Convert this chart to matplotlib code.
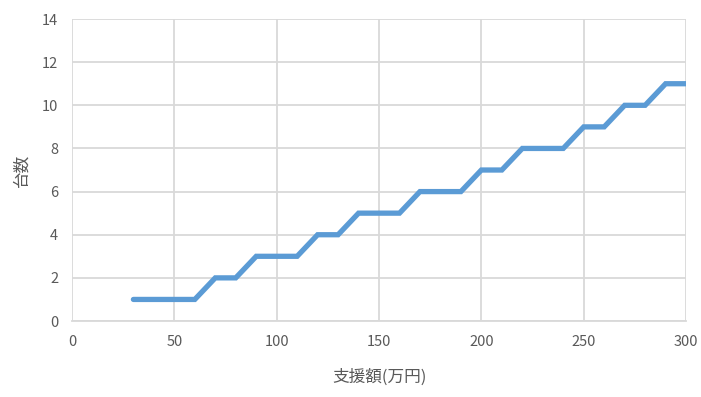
import matplotlib.pyplot as plt

plt.rcParams['font.family'] = ['Noto Sans CJK JP', 'DejaVu Sans']

# 支援額(万円) vs 台数
support = [30, 40, 50, 60, 70, 80, 90, 100, 110, 120, 130, 140, 150, 160,
           170, 180, 190, 200, 210, 220, 230, 240, 250, 260, 270, 280, 290, 300]
units = [1, 1, 1, 1, 2, 2, 3, 3, 3, 4, 4, 5, 5, 5,
         6, 6, 6, 7, 7, 8, 8, 8, 9, 9, 10, 10, 11, 11]
x_ticks = [0, 50, 100, 150, 200, 250, 300]
y_ticks = [0, 2, 4, 6, 8, 10, 12, 14]

fig = plt.figure(figsize=(7.01, 3.97), dpi=100)
ax = fig.add_axes([0.1027, 0.1914, 0.876, 0.7607])

ax.plot(support, units, color="#5B9BD5", linewidth=3.8, solid_capstyle="round",
        solid_joinstyle="miter", zorder=3)

ax.set_xlim(0, 300)
ax.set_ylim(0, 14)
ax.set_xticks(x_ticks)
ax.set_yticks(y_ticks)
ax.grid(True, color="#D9D9D9", linewidth=1.3)
ax.set_axisbelow(True)
for side in ["top", "right", "left"]:
    ax.spines[side].set_visible(False)
ax.spines["bottom"].set_color("#D9D9D9")
ax.spines["bottom"].set_linewidth(1.3)
ax.tick_params(length=0, labelsize=10.5, labelcolor="#595959")
ax.tick_params(axis="x", pad=10)
ax.tick_params(axis="y", pad=10)

ax.set_xlabel("支援額(万円)", fontsize=12, color="#595959", labelpad=14)
ax.set_ylabel("台数", fontsize=12, color="#595959", labelpad=8)

fig.savefig("out.png", dpi=100)
